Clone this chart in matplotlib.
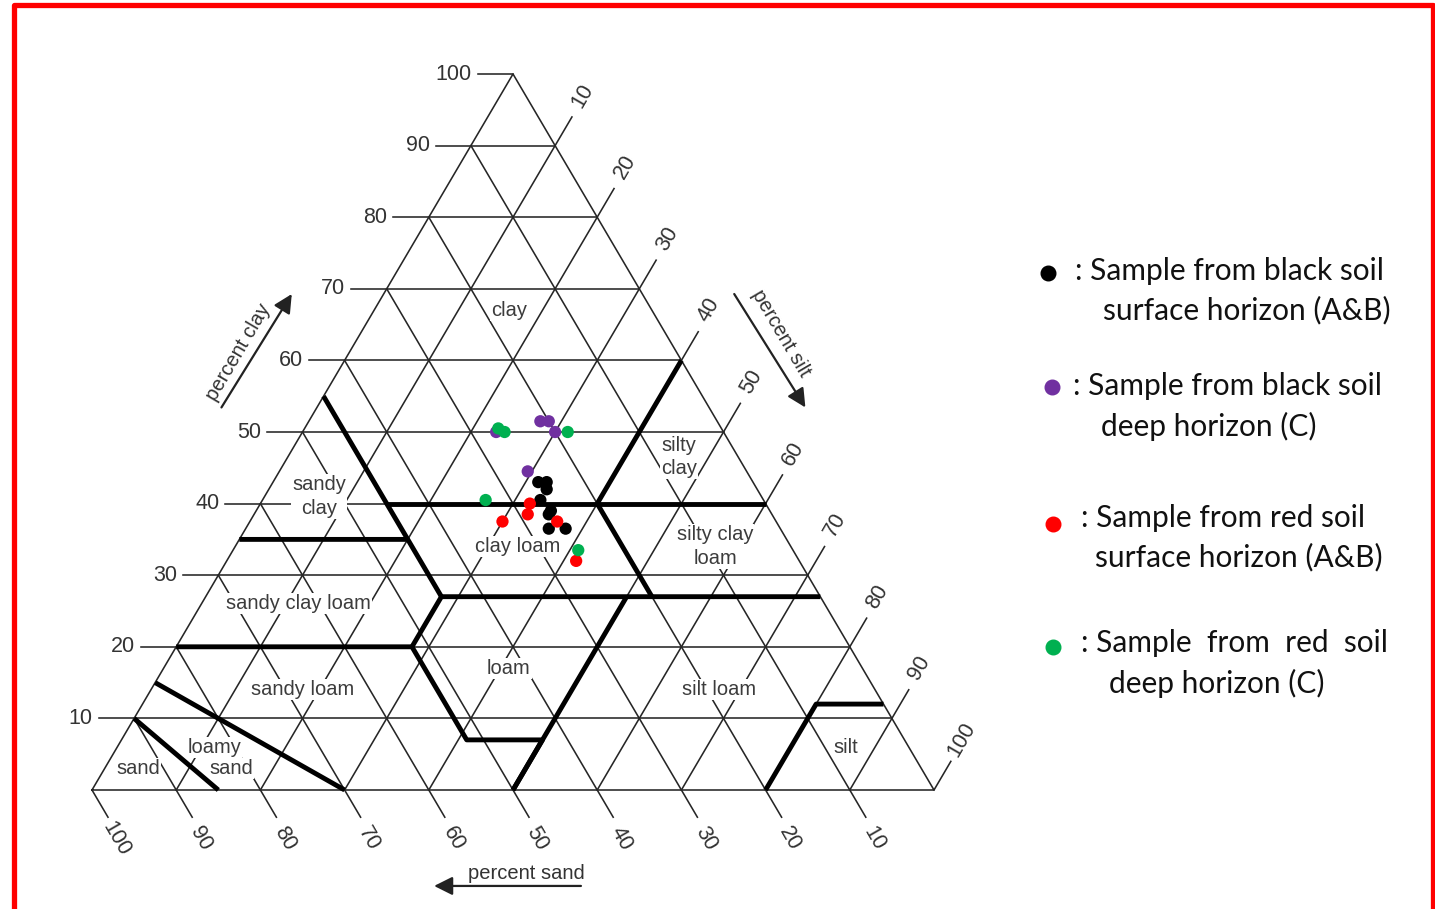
import matplotlib
matplotlib.use("Agg")
import matplotlib.pyplot as plt
from matplotlib.lines import Line2D

# sample points (percent)
black_sand = [25.5, 24.5, 25, 26.5, 26, 26.5, 27.5, 25.5]
black_silt = [31.5, 32.5, 33, 33, 35, 35, 36, 38]
black_clay = [43, 43, 42, 40.5, 39, 38.5, 36.5, 36.5]

purple_sand = [27, 21, 20, 20, 26]
purple_silt = [23, 27.5, 28.5, 30, 29.5]
purple_clay = [50, 51.5, 51.5, 50, 44.5]

red_sand = [32.5, 28, 29, 26, 26.5]
red_silt = [30, 32, 32.5, 36.5, 41.5]
red_clay = [37.5, 40, 38.5, 37.5, 32]

green_sand = [26.5, 26, 18.5, 33, 25.5]
green_silt = [23, 24, 31.5, 26.5, 41]
green_clay = [50.5, 50, 50, 40.5, 33.5]

tick_values = [10, 20, 30, 40, 50, 60, 70, 80, 90, 100]

class_names = ["clay", "silty\nclay", "sandy\nclay", "clay loam", "silty clay\nloam",
               "sandy clay loam", "loam", "sandy loam", "silt loam", "loamy", "sand",
               "sand", "silt"]
# (sand, silt, clay) where each class name sits
class_sand = [17, 7, 52.5, 32.5, 9, 62.5, 42, 68, 18.5, 82.5, 82, 93, 7.5]
class_silt = [16, 46.5, 6.5, 33.5, 57, 11.5, 41, 18, 67.5, 11.5, 15, 4, 86.5]
class_clay = [67, 46.5, 41, 34, 34, 26, 17, 14, 14, 6, 3, 3, 6]

# USDA texture class boundaries, each as a polyline of (sand, silt, clay)
boundaries = [
    [(85, 15, 0), (90, 0, 10)],
    [(70, 30, 0), (85, 0, 15)],
    [(80, 0, 20), (52, 28, 20), (52, 41, 7), (43, 50, 7), (50, 50, 0)],
    [(50, 50, 0), (23, 50, 27)],
    [(52, 28, 20), (45, 28, 27), (0, 73, 27)],
    [(45, 28, 27), (45, 20, 35), (65, 0, 35)],
    [(45, 20, 35), (45, 0, 55)],
    [(45, 15, 40), (0, 60, 40)],
    [(20, 40, 40), (0, 40, 60)],
    [(20, 40, 40), (20, 53, 27)],
    [(20, 80, 0), (8, 80, 12), (0, 88, 12)],
]

legend_lines = [
    (": Sample from black soil", "surface horizon (A&B)"),
    (": Sample from black soil", "deep horizon (C)"),
    (": Sample from red soil", "surface horizon (A&B)"),
    (": Sample  from  red  soil", "deep horizon (C)"),
]
colors = ["#000000", "#7030A0", "#FF0000", "#00B050"]


def tern(sand, silt, clay):
    return silt + clay / 2.0, clay


chart_font = "Liberation Sans"
legend_font = "Lato"

W, H = 1435, 909
fig = plt.figure(figsize=(W / 100, H / 100), dpi=100)
ax = fig.add_axes([0, 0, 1, 1])
ax.set_xlim(-92 / 8.42, (W - 92) / 8.42)
ax.set_ylim((790 - H) / 7.16, 790 / 7.16)
ax.axis("off")

grid_kw = dict(color="#262626", lw=1.15, zorder=1)
lab_kw = dict(fontsize=15.5, color="#333333", family=chart_font)

# outline
xs, ys = zip(*[tern(100, 0, 0), tern(0, 100, 0), tern(0, 0, 100), tern(100, 0, 0)])
ax.plot(xs, ys, **grid_kw)

for v in tick_values:
    # clay: horizontal lines with tick to the left
    x0, y0 = tern(100 - v, 0, v)
    x1, y1 = tern(0, 100 - v, v)
    ax.plot([x0 - 4.2, x1], [y0, y1], **grid_kw)
    ax.text(x0 - 4.9, y0, str(v), ha="right", va="center", **lab_kw)

    # silt: lines parallel to left edge, tick beyond right edge
    x0, y0 = tern(100 - v, v, 0)
    x1, y1 = tern(-4, v, 104 - v)
    ax.plot([x0, x1], [y0, y1], **grid_kw)
    tx, ty = tern(-7, v, 107 - v)
    ax.text(tx - 0.2, ty, str(v), ha="center", va="center", rotation=60, **lab_kw)

    # sand: lines parallel to right edge, tick below base
    x0, y0 = tern(v, 0, 100 - v)
    x1, y1 = tern(v, 103.8 - v, -3.8)
    ax.plot([x0, x1], [y0, y1], **grid_kw)
    tx, ty = tern(v, 106.8 - v, -6.8)
    ax.text(tx - 0.5, ty, str(v), ha="center", va="center", rotation=-60, **lab_kw)

# texture class boundaries
for seg in boundaries:
    pts = [tern(*p) for p in seg]
    ax.plot([p[0] for p in pts], [p[1] for p in pts], color="black", lw=3.5,
            solid_capstyle="butt", zorder=4)

# class names
for name, s, si, c in zip(class_names, class_sand, class_silt, class_clay):
    x, y = tern(s, si, c)
    ax.text(x, y, name, ha="center", va="center", fontsize=14.5, color="#3c3c3c",
            family=chart_font, linespacing=1.3, zorder=3,
            bbox=dict(boxstyle="square,pad=0.05", fc="white", ec="none"))

# axis titles with arrows
arrow_kw = dict(arrowstyle="-|>", color="#222222", lw=1.6, mutation_scale=28)
ax.annotate("", xy=(23.9, 69.6), xytext=(15.2, 53.1), arrowprops=arrow_kw)
ax.text(17.4, 61.2, "percent clay", rotation=59.5, ha="center", va="center",
        fontsize=14.5, color="#333333", family=chart_font)
ax.annotate("", xy=(84.9, 53.1), xytext=(76.1, 69.6), arrowprops=arrow_kw)
ax.text(81.8, 63.8, "percent silt", rotation=-59.5, ha="center", va="center",
        fontsize=14.5, color="#333333", family=chart_font)
ax.annotate("", xy=(40.3, -13.4), xytext=(58.4, -13.4), arrowprops=arrow_kw)
ax.text(51.6, -11.6, "percent sand", ha="center", va="center",
        fontsize=14.5, color="#333333", family=chart_font)

# samples
groups = [
    (black_sand, black_silt, black_clay),
    (purple_sand, purple_silt, purple_clay),
    (red_sand, red_silt, red_clay),
    (green_sand, green_silt, green_clay),
]
for (sa, si, cl), col in zip(groups, colors):
    pts = [tern(a, b, c) for a, b, c in zip(sa, si, cl)]
    ax.scatter([p[0] for p in pts], [p[1] for p in pts], s=78, color=col,
               edgecolors="none", zorder=5)


# legend on the right (positions in pixels)
def fx(px):
    return px / W


def fy(py):
    return 1 - py / H


dot_pos = [(1048, 273), (1052, 387), (1053, 524), (1053, 647)]
first_x = [1075, 1073, 1081, 1081]
second_x = [1103, 1101, 1095, 1109]
first_y = [271, 386, 518, 643]
second_y = [310, 426, 557, 683]
for i, (l1, l2) in enumerate(legend_lines):
    fig.add_artist(Line2D([fx(dot_pos[i][0])], [fy(dot_pos[i][1])], marker="o",
                          markersize=10.5, color=colors[i], lw=0,
                          transform=fig.transFigure))
    fig.text(fx(first_x[i]), fy(first_y[i]), l1, ha="left", va="center",
             fontsize=21.5, family=legend_font, color="#111111")
    fig.text(fx(second_x[i]), fy(second_y[i]), l2, ha="left", va="center",
             fontsize=21.5, family=legend_font, color="#111111")

# red frame
frame = dict(color="#FF0000", lw=3.8, transform=fig.transFigure, solid_capstyle="projecting")
fig.add_artist(Line2D([fx(13.5), fx(13.5), fx(1432.5), fx(1432.5)],
                      [fy(912), fy(5), fy(5), fy(912)], **frame))

fig.savefig("out.png", dpi=100)
